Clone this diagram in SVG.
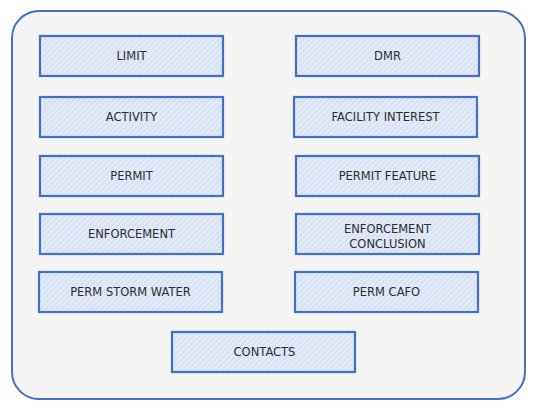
<svg xmlns="http://www.w3.org/2000/svg" width="538" height="414" viewBox="0 0 538 414">
<defs>
<pattern id="hatch" width="4" height="4" patternUnits="userSpaceOnUse" patternTransform="rotate(45)">
<rect width="4" height="4" fill="#dae3f5"/>
<line x1="0" y1="0" x2="0" y2="4" stroke="#ffffff" stroke-width="1.2" stroke-opacity="0.75"/>
</pattern>
</defs>
<style>
.box{fill:url(#hatch);stroke:#4170c4;stroke-width:2.2}
.lbl{font-family:"DejaVu Sans",Verdana,sans-serif;font-size:11.5px;fill:#2e2e2e;text-anchor:middle}
</style>
<rect width="538" height="414" fill="#ffffff"/>
<g id="container">
<rect x="12" y="11" width="513" height="388" rx="27" ry="27" fill="#f4f4f4" stroke="#4170c4" stroke-width="2"/>
</g>
<g id="connectors"></g>
<g id="limit"><rect class="box" x="40" y="36" width="183" height="40"/><text class="lbl" x="131.5" y="59.6">LIMIT</text></g>
<g id="dmr"><rect class="box" x="296" y="36" width="183" height="40"/><text class="lbl" x="387.5" y="59.6">DMR</text></g>
<g id="activity"><rect class="box" x="40" y="97" width="183" height="40"/><text class="lbl" x="131.5" y="120.6">ACTIVITY</text></g>
<g id="facility-interest"><rect class="box" x="294" y="97" width="183" height="40"/><text class="lbl" x="385.5" y="120.6">FACILITY INTEREST</text></g>
<g id="permit"><rect class="box" x="40" y="156" width="183" height="40"/><text class="lbl" x="131.5" y="179.6">PERMIT</text></g>
<g id="permit-feature"><rect class="box" x="296" y="156" width="183" height="40"/><text class="lbl" x="387.5" y="179.6">PERMIT FEATURE</text></g>
<g id="enforcement"><rect class="box" x="40" y="214" width="183" height="40"/><text class="lbl" x="131.5" y="237.6">ENFORCEMENT</text></g>
<g id="enforcement-conclusion"><rect class="box" x="296" y="214" width="183" height="40"/><text class="lbl" x="387.5" y="232.8">ENFORCEMENT</text><text class="lbl" x="387.5" y="247.8">CONCLUSION</text></g>
<g id="perm-storm-water"><rect class="box" x="39" y="272" width="183" height="40"/><text class="lbl" x="130.5" y="295.6">PERM STORM WATER</text></g>
<g id="perm-cafo"><rect class="box" x="295" y="272" width="183" height="40"/><text class="lbl" x="386.5" y="295.6">PERM CAFO</text></g>
<g id="contacts"><rect class="box" x="172" y="332" width="183" height="40"/><text class="lbl" x="264.5" y="355.6">CONTACTS</text></g>
</svg>
